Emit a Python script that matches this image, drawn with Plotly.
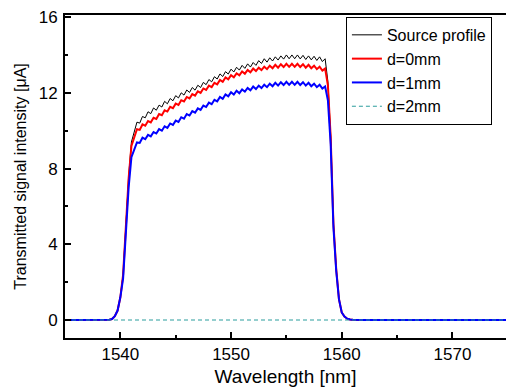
import plotly.graph_objects as go

# ---- data ----
wl_rise = [1535, 1538, 1539, 1539.25, 1539.5, 1539.75, 1540.0, 1540.25, 1540.5, 1540.75, 1541.0, 1541.25]
wl_top = [1541.5, 1541.75, 1542, 1542.25, 1542.5, 1542.75, 1543, 1543.25, 1543.5, 1543.75,
          1544, 1544.25, 1544.5, 1544.75, 1545, 1545.25, 1545.5, 1545.75, 1546, 1546.25,
          1546.5, 1546.75, 1547, 1547.25, 1547.5, 1547.75, 1548, 1548.25, 1548.5, 1548.75,
          1549, 1549.25, 1549.5, 1549.75, 1550, 1550.25, 1550.5, 1550.75, 1551, 1551.25,
          1551.5, 1551.75, 1552, 1552.25, 1552.5, 1552.75, 1553, 1553.25, 1553.5, 1553.75,
          1554, 1554.25, 1554.5, 1554.75, 1555, 1555.25, 1555.5, 1555.75, 1556, 1556.25,
          1556.5, 1556.75, 1557, 1557.25, 1557.5, 1557.75, 1558, 1558.25, 1558.5]
wl_fall = [1558.75, 1559.0, 1559.25, 1559.5, 1559.75, 1560.0, 1560.25, 1560.5, 1560.75, 1561, 1562, 1575]

src_rise = [0, 0, 0.02, 0.05, 0.2, 0.5, 1.2, 2.4, 4.9, 7.6, 9.4, 9.95]
src_top = [10.45, 10.40, 10.75, 10.68, 11.00, 10.90, 11.20, 11.08, 11.35, 11.25,
           11.55, 11.42, 11.70, 11.58, 11.85, 11.73, 12.00, 11.88, 12.15, 12.02,
           12.28, 12.14, 12.40, 12.28, 12.55, 12.43, 12.70, 12.58, 12.85, 12.73,
           13.00, 12.86, 13.12, 12.99, 13.25, 13.10, 13.35, 13.20, 13.45, 13.29,
           13.53, 13.36, 13.60, 13.45, 13.70, 13.55, 13.80, 13.62, 13.85, 13.68,
           13.90, 13.73, 13.95, 13.78, 14.00, 13.80, 14.00, 13.80, 14.00, 13.79,
           13.98, 13.76, 13.95, 13.74, 13.93, 13.71, 13.90, 13.65, 13.80]
src_fall = [12.6, 9.8, 5.1, 2.7, 1.1, 0.4, 0.18, 0.07, 0.03, 0.01, 0, 0]

d0_rise = [0, 0, 0.02, 0.05, 0.2, 0.5, 1.2, 2.4, 4.8, 7.5, 9.2, 9.7]
d0_top = [10.08, 10.04, 10.33, 10.26, 10.51, 10.44, 10.68, 10.62, 10.88, 10.82,
          11.08, 11.01, 11.26, 11.19, 11.43, 11.36, 11.61, 11.54, 11.78, 11.70,
          11.93, 11.85, 12.08, 12.00, 12.23, 12.15, 12.38, 12.30, 12.53, 12.45,
          12.68, 12.58, 12.81, 12.71, 12.93, 12.82, 13.03, 12.92, 13.13, 13.01,
          13.21, 13.08, 13.28, 13.15, 13.33, 13.20, 13.38, 13.25, 13.43, 13.30,
          13.48, 13.33, 13.51, 13.36, 13.53, 13.37, 13.53, 13.37, 13.53, 13.36,
          13.51, 13.33, 13.48, 13.30, 13.43, 13.25, 13.38, 13.17, 13.28]
d0_fall = [12.4, 9.7, 5.1, 2.7, 1.1, 0.4, 0.18, 0.07, 0.03, 0.01, 0, 0]

d1_rise = [0, 0, 0.02, 0.05, 0.2, 0.5, 1.2, 2.2, 4.5, 7.0, 8.6, 9.05]
d1_top = [9.38, 9.35, 9.63, 9.55, 9.78, 9.70, 9.93, 9.85, 10.08, 10.00,
          10.23, 10.15, 10.38, 10.30, 10.53, 10.46, 10.71, 10.63, 10.88, 10.80,
          11.03, 10.95, 11.18, 11.10, 11.33, 11.25, 11.48, 11.40, 11.63, 11.55,
          11.78, 11.68, 11.91, 11.81, 12.03, 11.91, 12.11, 11.98, 12.18, 12.06,
          12.26, 12.13, 12.33, 12.20, 12.38, 12.25, 12.43, 12.30, 12.48, 12.35,
          12.53, 12.38, 12.56, 12.41, 12.58, 12.42, 12.58, 12.42, 12.58, 12.41,
          12.56, 12.38, 12.53, 12.35, 12.48, 12.30, 12.43, 12.22, 12.33]
d1_fall = [11.6, 9.3, 4.9, 2.6, 1.1, 0.4, 0.18, 0.07, 0.03, 0.01, 0, 0]

wl_d2 = [1535, 1575]
d2_vals = [0, 0]

x_ticks = [1540, 1550, 1560, 1570]
x_minor = [1545, 1555, 1565]
y_ticks = [0, 4, 8, 12, 16]
y_minor = [2, 6, 10, 14]

wl = wl_rise + wl_top + wl_fall
series = [
    ("Source profile", src_rise + src_top + src_fall, dict(color="black", width=1)),
    ("d=0mm", d0_rise + d0_top + d0_fall, dict(color="#ff0000", width=2)),
    ("d=1mm", d1_rise + d1_top + d1_fall, dict(color="#0000ff", width=2)),
]

fig = go.Figure()
for name, vals, line in series:
    fig.add_trace(go.Scatter(x=wl, y=vals, mode="lines", name=name, line=line))
fig.add_trace(go.Scatter(x=wl_d2, y=d2_vals, mode="lines", name="d=2mm",
                         line=dict(color="#2a9d9d", width=1, dash="4px,3px")))

font_family = "Liberation Sans, Arial, sans-serif"
fig.update_layout(
    width=506, height=392,
    margin=dict(l=65, r=0, t=15, b=54),
    paper_bgcolor="white", plot_bgcolor="white",
    font=dict(family=font_family, size=16, color="black"),
    showlegend=True,
    legend=dict(x=0.637, y=0.994, xanchor="left", yanchor="top",
                bordercolor="black", borderwidth=1, bgcolor="white",
                font=dict(size=16), tracegroupgap=0, itemwidth=30),
    xaxis=dict(range=[1535, 1574.84], tickvals=x_ticks, ticks="inside", ticklen=6,
               tickwidth=2, tickcolor="black", showline=True, linecolor="black",
               linewidth=2, mirror=True, showgrid=False, zeroline=False,
               tickfont=dict(size=17),
               minor=dict(tickvals=x_minor, ticks="inside", ticklen=3,
                          tickcolor="black", tickwidth=2),
               title=dict(text="Wavelength [nm]", font=dict(size=19), standoff=6)),
    yaxis=dict(range=[-0.95, 16.11], tickvals=y_ticks, ticks="inside", ticklen=6,
               tickwidth=2, tickcolor="black", showline=True, linecolor="black",
               linewidth=2, showgrid=False, zeroline=False,
               tickfont=dict(size=17), ticklabelstandoff=2,
               minor=dict(tickvals=y_minor, ticks="inside", ticklen=3,
                          tickcolor="black", tickwidth=2),
               title=dict(text="Transmitted signal intensity [\u03bcA]", font=dict(size=16), standoff=8)),
)

fig.write_html("out.html")
